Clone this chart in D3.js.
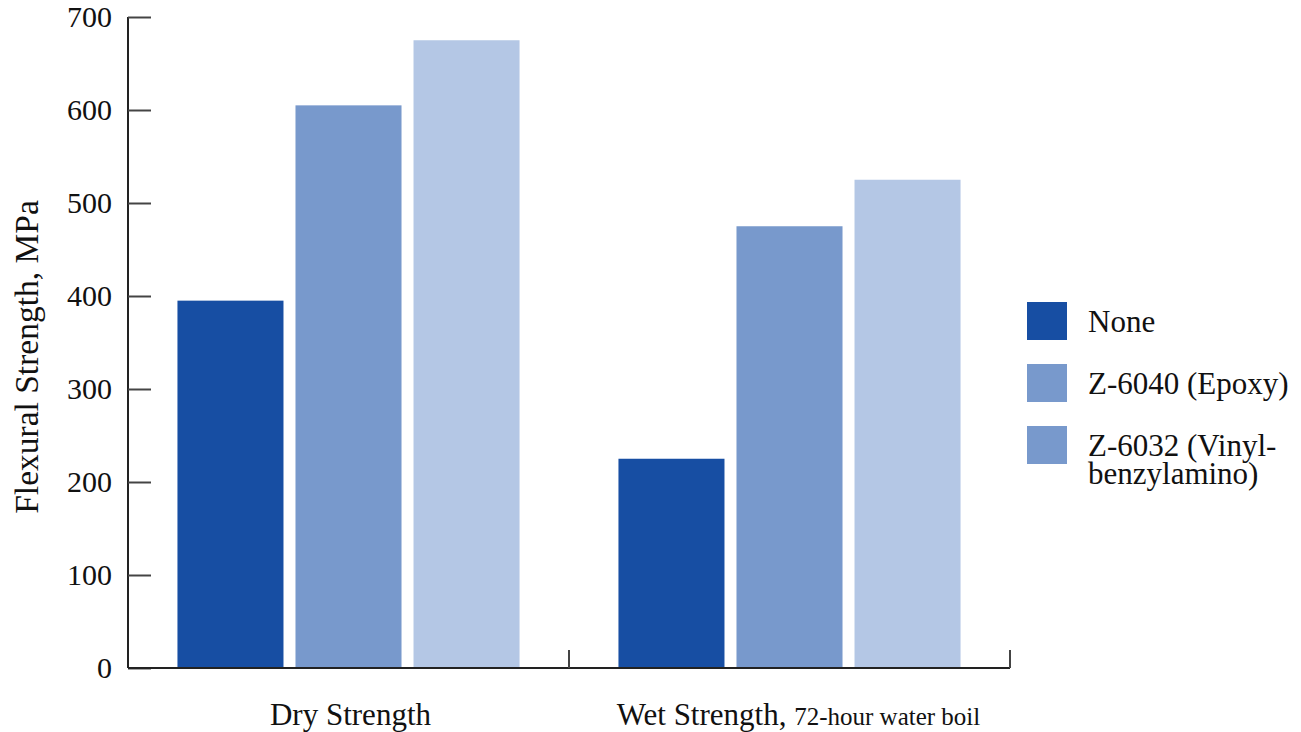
<!DOCTYPE html>
<html><head><meta charset="utf-8">
<script src="https://cdn.jsdelivr.net/npm/d3@7"></script>
<style>
html,body{margin:0;padding:0;background:#fff;}
text{font-family:"Liberation Serif","Times New Roman",serif;fill:#111;}
</style></head>
<body><svg id="chart" width="1301" height="732"></svg>
<script>
const categories = ["Dry Strength", "Wet Strength"];
const series = ["None", "Z-6040 (Epoxy)", "Z-6032 (Vinyl-benzylamino)"];
const noneValues = [395, 225];
const epoxyValues = [605, 475];
const vinylValues = [675, 525];
const yTicks = [0, 100, 200, 300, 400, 500, 600, 700];

const barColors = ["#174ea3", "#7899cc", "#b4c7e5"];
const legendColors = ["#174ea3", "#7899cc", "#7899cc"];

const svg = d3.select("#chart");
const mLeft = 128, mRight = 1010, mTop = 17, mBottom = 668;

const x0 = d3.scaleBand().domain(categories).range([mLeft, mRight]).paddingInner(0).paddingOuter(0);
const x1 = d3.scaleBand().domain(series).range([0, x0.bandwidth()]).paddingInner(0.1017).paddingOuter(0.419);
const y = d3.scaleLinear().domain([0, 700]).range([mBottom, mTop]);

const valuesBySeries = [noneValues, epoxyValues, vinylValues];

// bars
series.forEach((s, si) => {
  svg.append("g").selectAll("rect")
    .data(categories.map((c, ci) => ({c, v: valuesBySeries[si][ci]})))
    .join("rect")
    .attr("x", d => x0(d.c) + x1(s))
    .attr("width", x1.bandwidth())
    .attr("y", d => y(d.v))
    .attr("height", d => y(0) - y(d.v))
    .attr("fill", barColors[si]);
});

// y axis
const yAxis = svg.append("g").attr("transform", `translate(${mLeft},0)`)
  .call(d3.axisRight(y).tickValues(yTicks).tickSize(23).tickFormat(d3.format("d")));
yAxis.select(".domain").attr("stroke", "#222").attr("stroke-width", 2).attr("d", `M0,${mTop}V${mBottom}`);
yAxis.selectAll(".tick line").attr("stroke", "#444").attr("stroke-width", 2);
yAxis.selectAll(".tick text").attr("x", -16).attr("text-anchor", "end")
  .style("font-size", "30px").style("font-family", "'Liberation Serif', serif").attr("fill", "#111");

// x axis
const xAxisG = svg.append("g").attr("transform", `translate(0,${mBottom})`);
xAxisG.append("line").attr("x1", mLeft).attr("x2", mRight).attr("y1", 0).attr("y2", 0)
  .attr("stroke", "#222").attr("stroke-width", 2);
const xTickPos = [x0(categories[1]), mRight];
xAxisG.selectAll("line.xt").data(xTickPos).join("line").attr("class", "xt")
  .attr("x1", d => d).attr("x2", d => d).attr("y1", 0).attr("y2", -18)
  .attr("stroke", "#444").attr("stroke-width", 2);

// x labels
svg.append("text").attr("x", x0(categories[0]) + x0.bandwidth() / 2 + 2).attr("y", 725)
  .attr("text-anchor", "middle").style("font-size", "31px").text("Dry Strength");
const wet = svg.append("text").attr("x", x0(categories[1]) + x0.bandwidth() / 2 + 9).attr("y", 725)
  .attr("text-anchor", "middle").style("font-size", "31px");
wet.append("tspan").text("Wet Strength, ");
wet.append("tspan").style("font-size", "25px").text("72-hour water boil");

// y title
svg.append("text").attr("transform", "translate(38,357) rotate(-90)")
  .attr("text-anchor", "middle").style("font-size", "33.5px").text("Flexural Strength, MPa");

// legend
const legendLabels = [["None"], ["Z-6040 (Epoxy)"], ["Z-6032 (Vinyl-", "benzylamino)"]];
const lg = svg.append("g").attr("transform", "translate(1027,302)");
legendLabels.forEach((lines, i) => {
  const g = lg.append("g").attr("transform", `translate(0,${i * 62})`);
  g.append("rect").attr("width", 40).attr("height", 38).attr("fill", legendColors[i]);
  lines.forEach((ln, li) => g.append("text").attr("x", 61).attr("y", 30 + li * 28)
    .style("font-size", "31px").text(ln));
});
</script></body></html>
